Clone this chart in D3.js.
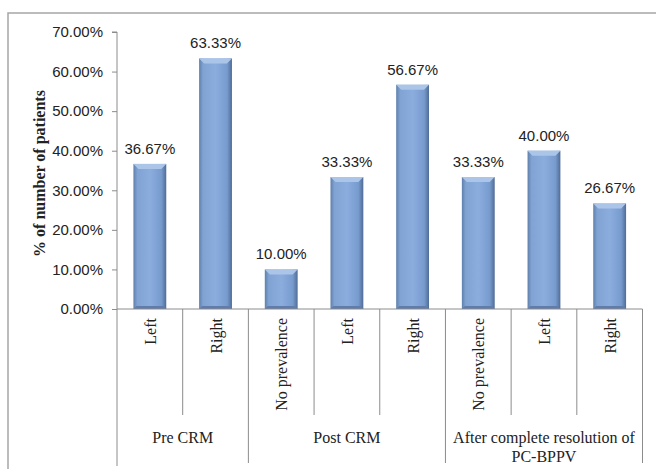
<!DOCTYPE html>
<html>
<head>
<meta charset="utf-8">
<script src="https://cdn.jsdelivr.net/npm/d3@7"></script>
<style>
  body { margin: 0; background: #fff; }
  svg { display: block; }
  .serif { font-family: "Liberation Serif", "DejaVu Serif", serif; }
  .sans { font-family: "Liberation Sans", Arial, sans-serif; }
</style>
</head>
<body>
<svg id="chart" width="656" height="469"></svg>
<script>
// data
const categories = ["Left", "Right", "No prevalence", "Left", "Right", "No prevalence", "Left", "Right"];
const values = [36.67, 63.33, 10.00, 33.33, 56.67, 33.33, 40.00, 26.67];
const groups = [["Pre CRM"], ["Post CRM"], ["After complete resolution of", "PC-BPPV"]];
const groupSizes = [2, 3, 3];
const yTicks = [0, 10, 20, 30, 40, 50, 60, 70];

const svg = d3.select("#chart");
const x0 = 117, x1 = 642.5, yTop = 32, yBot = 309;

// outer frame (runs off right and bottom)
svg.append("rect")
  .attr("x", 8).attr("y", 13).attr("width", 700).attr("height", 500)
  .attr("fill", "none").attr("stroke", "#a6a6a6").attr("stroke-width", 1.5);

const x = d3.scaleBand()
  .domain(d3.range(categories.length))
  .range([x0, x1])
  .paddingInner(0.5).paddingOuter(0.25);
const step = x.step();

const y = d3.scaleLinear().domain([0, 70]).range([yBot, yTop]);

const defs = svg.append("defs");
const grad = defs.append("linearGradient").attr("id", "barGrad")
  .attr("x1", "0").attr("x2", "1").attr("y1", "0").attr("y2", "0");
[["0%", "#5f80ab"], ["12%", "#80a3d4"], ["50%", "#8badde"], ["85%", "#789bce"], ["100%", "#506c96"]]
  .forEach(s => grad.append("stop").attr("offset", s[0]).attr("stop-color", s[1]));

// y axis
const yAxis = svg.append("g").attr("transform", `translate(${x0},0)`)
  .call(d3.axisLeft(y).tickValues(yTicks).tickSize(5).tickPadding(9)
    .tickFormat(d => d.toFixed(2) + "%"));
yAxis.attr("font-family", null).attr("font-size", null);
yAxis.select(".domain").attr("stroke", "#8c8c8c").attr("d", `M-5,${yTop}H0V${yBot}`);
yAxis.selectAll(".tick line").attr("stroke", "#8c8c8c");
yAxis.selectAll(".tick text")
  .attr("class", "sans")
  .attr("font-size", 15).attr("fill", "#222");

// y title
svg.append("text")
  .attr("class", "serif")
  .attr("transform", `translate(45,${(yTop + yBot) / 2 + 3}) rotate(-90)`)
  .attr("text-anchor", "middle")
  .attr("font-weight", "bold").attr("font-size", 16).attr("fill", "#222")
  .text("% of number of patients");

// bars
const bars = svg.append("g").selectAll("g").data(values).join("g");
bars.append("rect")
  .attr("x", (d, i) => x(i)).attr("width", x.bandwidth())
  .attr("y", d => y(d)).attr("height", d => yBot - y(d))
  .attr("fill", "url(#barGrad)");
bars.append("path")
  .attr("d", (d, i) => {
    const a = x(i), b = a + x.bandwidth(), t = y(d), e = 5;
    return `M${a},${t}H${b}L${b - e},${t + e}H${a + e}Z`;
  })
  .attr("fill", "#abc5e9");
bars.append("path")
  .attr("d", (d, i) => {
    const a = x(i), b = a + x.bandwidth(), t = yBot, e = 3;
    return `M${a},${t}H${b}L${b - e},${t - e}H${a + e}Z`;
  })
  .attr("fill", "#5f7cab");

// value labels
svg.append("g").selectAll("text").data(values).join("text")
  .attr("class", "sans")
  .attr("x", (d, i) => x(i) + x.bandwidth() / 2)
  .attr("y", d => y(d) - 10)
  .attr("text-anchor", "middle")
  .attr("font-size", 15).attr("fill", "#222")
  .text(d => d.toFixed(2) + "%");

// baseline
svg.append("line")
  .attr("x1", x0).attr("x2", x1).attr("y1", yBot).attr("y2", yBot)
  .attr("stroke", "#8c8c8c");

// separators
const groupStarts = [0];
groupSizes.forEach((s, i) => groupStarts.push(groupStarts[i] + s));
const sep = svg.append("g").attr("stroke", "#8c8c8c");
d3.range(categories.length + 1).forEach(i => {
  const isGroup = groupStarts.includes(i);
  const xx = x0 + i * step;
  sep.append("line")
    .attr("x1", xx).attr("x2", xx)
    .attr("y1", yBot).attr("y2", isGroup ? (i === 0 ? 466 : 463) : 415);
});

// category labels
svg.append("g").selectAll("text").data(categories).join("text")
  .attr("class", "serif")
  .attr("transform", (d, i) => `translate(${x(i) + x.bandwidth() / 2 + 6},318) rotate(-90)`)
  .attr("text-anchor", "end")
  .attr("font-size", 16).attr("fill", "#222")
  .text(d => d);

// group labels
groups.forEach((lines, gi) => {
  const cx = x0 + (groupStarts[gi] + groupSizes[gi] / 2) * step;
  lines.forEach((ln, li) => {
    svg.append("text")
      .attr("class", "serif")
      .attr("x", cx).attr("y", 443 + li * 19)
      .attr("text-anchor", "middle")
      .attr("font-size", 16).attr("fill", "#222")
      .text(ln);
  });
});
</script>
</body>
</html>
